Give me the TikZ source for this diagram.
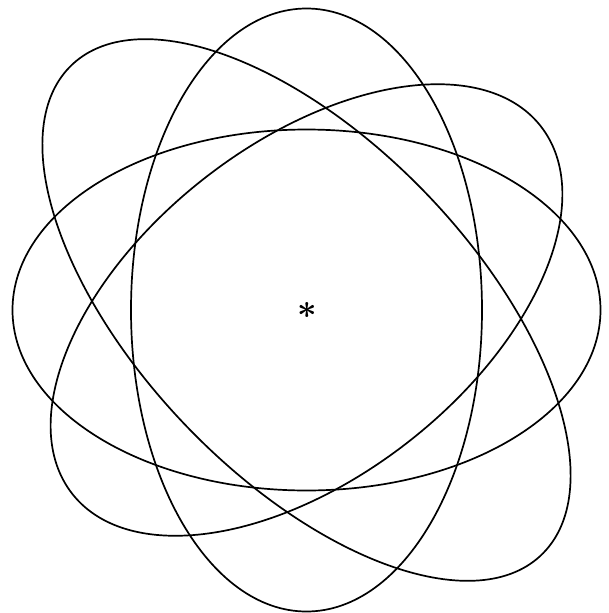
\documentclass[tikz,border=0pt]{standalone}
\font\mystarfont=cmbsy10 at 34pt
\begin{document}
\begin{tikzpicture}[x=1pt,y=-1pt,
  orbit/.style={draw=black, line width=1.7pt}]
\useasboundingbox[fill=white] (0,0) rectangle (609,613);
\begin{scope}[shift={(306.5,310)}, yscale=1.0255]
  \draw[orbit] (0,0) ellipse [x radius=294, y radius=176];
  \draw[orbit, rotate=90] (0,0) ellipse [x radius=294, y radius=175.5];
  \draw[orbit, rotate=-45] (0,0) ellipse [x radius=335, y radius=165];
  \draw[orbit, rotate=36.8] (0,0) ellipse [x radius=295, y radius=164];
\end{scope}
\node[inner sep=0pt] (star) at (307,310) {\mystarfont\char"03};
\end{tikzpicture}
\end{document}
